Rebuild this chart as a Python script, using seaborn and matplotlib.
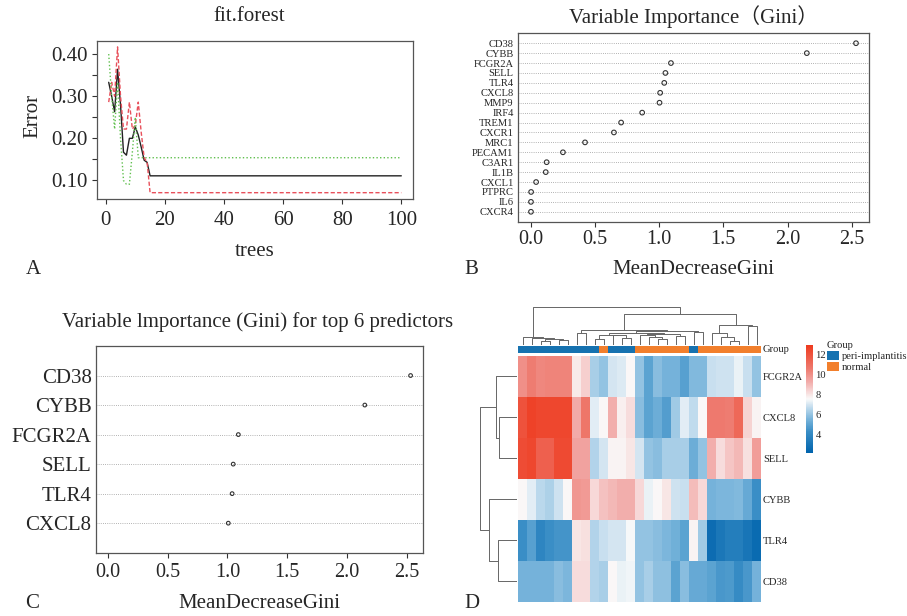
import numpy as np
import pandas as pd
import matplotlib
matplotlib.use("Agg")
import matplotlib.pyplot as plt
from matplotlib.colors import LinearSegmentedColormap, ListedColormap
from matplotlib.patches import Patch
import seaborn as sns

# ---------------- data ----------------
# A: error rate vs number of trees (curves are flat after tree 15)
trees = [1, 2, 3, 4, 5, 6, 7, 8, 9, 10, 11, 12, 13, 14, 15, 100]
err_oob = [0.333, 0.300, 0.263, 0.364, 0.280, 0.167, 0.160, 0.200, 0.200, 0.227,
           0.208, 0.179, 0.148, 0.143, 0.111, 0.111]
err_normal = [0.286, 0.333, 0.300, 0.417, 0.300, 0.222, 0.222, 0.286, 0.222, 0.231,
              0.286, 0.214, 0.154, 0.143, 0.071, 0.071]
err_peri = [0.400, 0.300, 0.222, 0.333, 0.200, 0.100, 0.091, 0.091, 0.167, 0.250,
            0.154, 0.154, 0.154, 0.154, 0.154, 0.154]

# B / C: MeanDecreaseGini
genes = ["CD38", "CYBB", "FCGR2A", "SELL", "TLR4", "CXCL8", "MMP9", "IRF4", "TREM1",
         "CXCR1", "MRC1", "PECAM1", "C3AR1", "IL1B", "CXCL1", "PTPRC", "IL6", "CXCR4"]
gini = [2.533, 2.150, 1.092, 1.049, 1.040, 1.008, 1.003, 0.868, 0.704,
        0.648, 0.423, 0.251, 0.124, 0.117, 0.042, 0.003, 0.002, 0.002]
n_top = 6

# D: expression heatmap (27 samples)
heat_genes = ["FCGR2A", "CXCL8", "SELL", "CYBB", "TLR4", "CD38"]
expr_fcgr2a = [10.0, 10.5, 10.2, 10.3, 10.3, 10.3, 7.9, 8.5, 6.3, 6.0, 7.0, 7.1, 7.6, 6.0,
               5.0, 5.8, 5.5, 5.5, 4.9, 5.7, 5.7, 6.8, 6.9, 6.9, 7.3, 6.8, 6.0]
expr_cxcl8 = [12.0, 12.6, 12.4, 12.4, 12.4, 12.4, 9.3, 10.7, 7.2, 7.6, 9.2, 7.8, 8.2, 5.8,
              5.0, 5.3, 4.8, 6.2, 7.2, 6.7, 7.6, 10.6, 10.6, 10.5, 11.2, 8.4, 7.7]
expr_sell = [12.2, 12.4, 11.5, 11.5, 12.3, 12.3, 9.5, 9.5, 6.5, 7.0, 7.7, 7.7, 8.0, 7.0,
             6.0, 5.8, 6.3, 6.3, 6.3, 5.3, 6.0, 9.2, 8.2, 8.7, 9.0, 8.1, 9.6]
expr_cybb = [7.6, 7.2, 6.6, 6.4, 6.9, 7.6, 9.8, 9.7, 8.3, 8.8, 9.0, 9.2, 9.2, 8.3, 7.3,
             7.6, 8.0, 6.9, 6.8, 8.9, 8.3, 5.5, 5.6, 5.6, 5.7, 5.2, 4.3]
expr_tlr4 = [4.3, 4.9, 3.9, 4.3, 4.5, 4.5, 8.0, 8.1, 6.5, 6.8, 7.0, 7.0, 7.5, 6.0, 6.0,
             5.8, 5.6, 5.4, 5.0, 7.7, 6.2, 2.7, 3.2, 3.5, 3.5, 3.1, 2.6]
expr_cd38 = [5.5, 5.5, 5.5, 5.5, 5.8, 5.6, 8.2, 8.2, 6.5, 6.3, 7.6, 7.3, 7.4, 6.0, 6.3,
             5.9, 5.9, 5.0, 5.8, 5.2, 5.2, 5.0, 4.6, 4.7, 4.2, 4.6, 5.5]
group_levels = ["peri-implantitis", "normal"]
group_code = [0, 0, 0, 0, 0, 0, 0, 0, 0, 1, 0, 0, 0, 1, 1, 1, 1, 1, 1, 0, 1, 1, 1, 1, 1, 1, 1]

# hierarchical clustering merges: (left id, right id, height); ids >= n are earlier merges
col_merges = [
    (2, 3, 12), (4, 5, 15), (27, 28, 20), (1, 29, 23), (0, 30, 25),
    (6, 7, 38), (8, 9, 20), (11, 12, 22), (10, 34, 30), (33, 35, 32),
    (15, 16, 18), (14, 37, 25), (13, 38, 30), (17, 18, 28), (39, 40, 34),
    (36, 41, 36), (19, 20, 40), (42, 43, 42), (32, 44, 45),
    (23, 24, 12), (22, 46, 25), (21, 47, 38), (25, 26, 59), (48, 49, 60),
    (45, 50, 95), (31, 51, 115),
]
row_merges = [(1, 2, 54), (0, 6, 64), (4, 5, 57), (3, 8, 84), (7, 9, 112)]

# ---------------- style ----------------
sns.set_theme(style="ticks")
plt.rcParams["font.family"] = ["Liberation Serif", "Noto Sans CJK SC"]
plt.rcParams["axes.linewidth"] = 0.9

W, H = 907, 616


def rect(l, t, r, b):
    return [l / W, 1 - b / H, (r - l) / W, (b - t) / H]


fig = plt.figure(figsize=(W / 100, H / 100), dpi=100)
frame_col = "#555555"


def style_box(ax):
    for s in ax.spines.values():
        s.set_visible(True)
        s.set_color(frame_col)
        s.set_linewidth(0.9)


# ---------------- A: error curves ----------------
axA = fig.add_axes(rect(97, 41, 413, 199))
err_df = pd.DataFrame({
    "trees": trees * 3,
    "Error": err_oob + err_normal + err_peri,
    "series": ["OOB"] * len(trees) + ["normal"] * len(trees) + ["peri-implantitis"] * len(trees),
})
sns.lineplot(data=err_df, x="trees", y="Error", hue="series", style="series",
             hue_order=["OOB", "normal", "peri-implantitis"],
             style_order=["OOB", "normal", "peri-implantitis"],
             palette={"OOB": "#222222", "normal": "#E8505B", "peri-implantitis": "#61C04F"},
             dashes={"OOB": "", "normal": (3.0, 1.6), "peri-implantitis": (1.0, 1.6)},
             linewidth=1.0, legend=False, ax=axA)
axA.set_xlim(1 - 0.04 * 99, 100 + 0.04 * 99)
axA.set_ylim(0.056, 0.431)
axA.set_xticks([0, 20, 40, 60, 80, 100])
axA.set_yticks([0.10, 0.15, 0.20, 0.25, 0.30, 0.35, 0.40])
axA.set_yticklabels(["0.10", "", "0.20", "", "0.30", "", "0.40"])
axA.tick_params(axis="both", labelsize=15, length=3.8, width=0.8, color="#333333", direction="out")
axA.tick_params(axis="x", pad=5)
axA.tick_params(axis="y", pad=3)
style_box(axA)
axA.set_xlabel("trees", fontsize=15, va="center")
axA.xaxis.set_label_coords(0.5, -(251.7 - 199) / 158)
axA.set_ylabel("Error", fontsize=15, va="center")
axA.yaxis.set_label_coords(-(97 - 33) / 316, (199 - 116) / 158)
axA.set_title("fit.forest", fontsize=15, x=(249.5 - 97) / 316, y=(199 - 16.7) / 158, va="center", pad=0)

# ---------------- B / C: dot charts ----------------
def dotchart(ax, names, values, label_size, marker_s, title, title_xy, xlabel_y, tick_pad):
    d = pd.DataFrame({"gene": names, "gini": values})
    sns.scatterplot(data=d, x="gini", y="gene", ax=ax, s=marker_s, marker="o",
                    facecolor="none", edgecolor="#333333", linewidth=0.8, zorder=3)
    n = len(names)
    ax.set_ylim(n, -1)
    ax.set_xlim(-0.04 * 2.533, 2.533 * 1.04)
    ax.set_xticks([0.0, 0.5, 1.0, 1.5, 2.0, 2.5])
    ax.set_xticklabels(["0.0", "0.5", "1.0", "1.5", "2.0", "2.5"])
    ax.yaxis.grid(True, linestyle=(0, (1.0, 1.6)), color="#9a9a9a", linewidth=0.6)
    ax.xaxis.grid(False)
    ax.tick_params(axis="y", length=0, labelsize=label_size, pad=3)
    ax.tick_params(axis="x", labelsize=14.5, length=3.5, width=0.8, color="#333333", pad=tick_pad)
    style_box(ax)
    ax.set_ylabel("")
    ax.set_xlabel("MeanDecreaseGini", fontsize=15, va="center")
    ax.xaxis.set_label_coords(0.5, xlabel_y)
    ax.set_title(title, fontsize=15, x=title_xy[0], y=title_xy[1], va="center", pad=0)


axB = fig.add_axes(rect(517.7, 33.3, 869, 221.7))
dotchart(axB, genes, gini, 7.6, 11, "Variable Importance（Gini）",
         (0.5, (221.7 - 16.7) / 188.4), -(270 - 221.7) / 188.4, 2.5)

axC = fig.add_axes(rect(95.7, 346, 422.7, 552.7))
dotchart(axC, genes[:n_top], gini[:n_top], 15, 7, "Variable lmportance (Gini) for top 6 predictors",
         ((257.2 - 95.7) / 327, (552.7 - 321.7) / 206.7), -(603 - 552.7) / 206.7, 4)

# ---------------- D: clustered heatmap ----------------
c_peri, c_normal = "#1672B0", "#F27F2C"
vmin, vmax = 2.2, 12.9
ramp = [(2.2, "#0063AC"), (4.3, "#3A8EC6"), (5.5, "#76B3DA"), (6.5, "#B3D4EA"),
        (7.55, "#FAFAFA"), (9.3, "#F2AAA8"), (10.5, "#EE7C71"), (12.9, "#EE3A1E")]
heat_cmap = LinearSegmentedColormap.from_list(
    "expr", [((v - vmin) / (vmax - vmin), c) for v, c in ramp])
expr = pd.DataFrame([expr_fcgr2a, expr_cxcl8, expr_sell, expr_cybb, expr_tlr4, expr_cd38],
                    index=heat_genes)

axH = fig.add_axes(rect(518, 355.7, 761, 601.7))
axG = fig.add_axes(rect(518, 345.7, 761, 353.3))
axCT = fig.add_axes(rect(518, 307, 761, 345.3))
axRT = fig.add_axes(rect(480, 355.7, 517.3, 601.7))
axCB = fig.add_axes(rect(806, 345, 813.3, 453))

sns.heatmap(expr, ax=axH, cmap=heat_cmap, vmin=vmin, vmax=vmax, cbar_ax=axCB,
            cbar_kws={"ticks": [4, 6, 8, 10, 12]}, xticklabels=False, yticklabels=True)
axH.yaxis.tick_right()
axH.set_yticklabels(heat_genes, rotation=0, fontsize=7.6)
axH.tick_params(axis="y", length=0, pad=1.5)
axH.tick_params(axis="x", length=0)
axH.set_xlabel("")
axH.set_ylabel("")

axCB.tick_params(length=0, labelsize=7.6, pad=1.5)
cbar = axH.collections[0].colorbar
if cbar is not None:
    cbar.outline.set_visible(False)

sns.heatmap(np.array([group_code]), ax=axG, cmap=ListedColormap([c_peri, c_normal]),
            vmin=-0.5, vmax=1.5, cbar=False, xticklabels=False, yticklabels=["Group"])
axG.yaxis.tick_right()
axG.set_yticklabels(["Group"], rotation=0, fontsize=7.6, va="center")
axG.tick_params(axis="y", length=0, pad=1.5)
axG.tick_params(axis="x", length=0)


def draw_tree(ax, merges, n, top):
    pos = list(np.arange(n) + 0.5)
    hgt = [0.0] * n
    for a, b, h in merges:
        p = [pos[a], pos[a], pos[b], pos[b]]
        q = [hgt[a], h, h, hgt[b]]
        if top:
            ax.plot(p, q, color="#666666", lw=0.7, solid_capstyle="butt")
        else:
            ax.plot(q, p, color="#666666", lw=0.7, solid_capstyle="butt")
        pos.append((pos[a] + pos[b]) / 2)
        hgt.append(h)
    mh = max(hgt)
    if top:
        ax.set_xlim(0, n)
        ax.set_ylim(0, mh)
    else:
        ax.set_xlim(mh, 0)
        ax.set_ylim(n, 0)
    ax.axis("off")


draw_tree(axCT, col_merges, len(group_code), True)
draw_tree(axRT, row_merges, len(heat_genes), False)

handles = [Patch(facecolor=c_peri, edgecolor="none"), Patch(facecolor=c_normal, edgecolor="none")]
leg = fig.legend(handles, group_levels, title="Group", loc="upper left",
                 bbox_to_anchor=(826.7 / W, 1 - 341 / H), frameon=False, fontsize=7.6,
                 title_fontsize=7.6, handlelength=1.15, handleheight=1.05, handletextpad=0.25,
                 labelspacing=0.05, borderpad=0, borderaxespad=0, alignment="left")

# ---------------- panel letters ----------------
for letter, x, y in [("A", 33, 270), ("B", 471, 270), ("C", 32.5, 603), ("D", 471.5, 603)]:
    fig.text(x / W, 1 - y / H, letter, fontsize=15, ha="center", va="center")

fig.savefig("out.png", dpi=100)
